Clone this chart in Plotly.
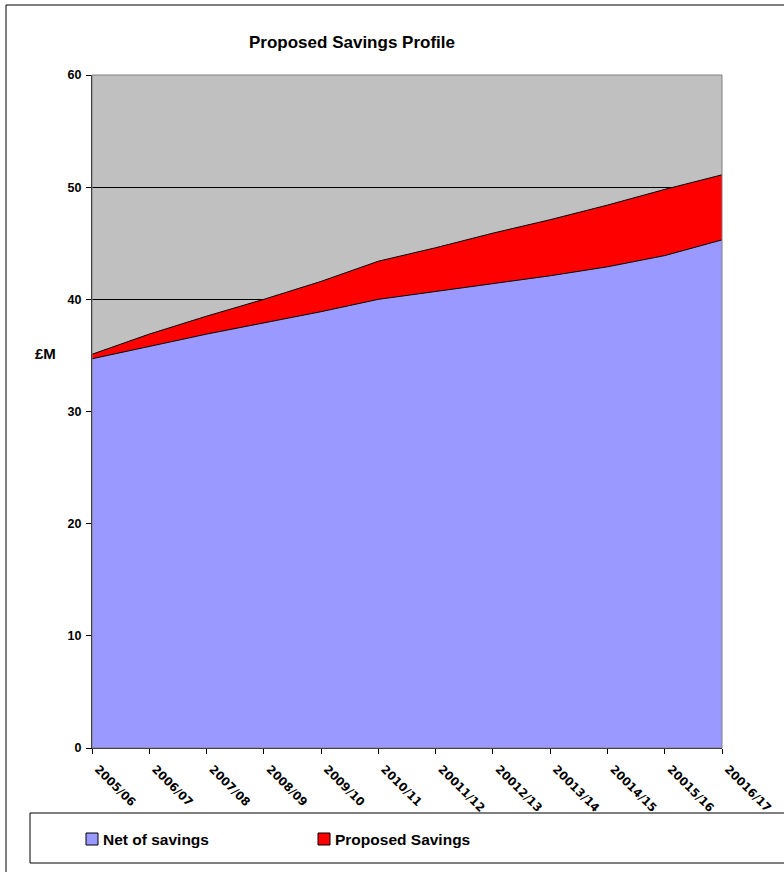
import plotly.graph_objects as go

# Financial years on the category axis
years = ["2005/06", "2006/07", "2007/08", "2008/09", "2009/10", "2010/11",
         "20011/12", "20012/13", "20013/14", "20014/15", "20015/16", "20016/17"]

# £M per year
net_of_savings = [34.7, 35.8, 36.9, 37.9, 38.9, 40.0, 40.7, 41.4, 42.1, 42.9, 43.9, 45.3]
proposed_savings = [0.4, 1.1, 1.6, 2.1, 2.7, 3.4, 3.9, 4.5, 5.0, 5.5, 5.9, 5.8]

y_ticks = [0, 10, 20, 30, 40, 50, 60]

W, H = 784, 872
L, R, T, B = 92, 722, 75, 748  # plot area edges in pixels

FONT = "Liberation Sans, Arial, sans-serif"
WIDE_FONT = "DejaVu Sans, Verdana, sans-serif"
BLUE = "#9999FF"
RED = "#FF0000"


def px(x):
    return (x - L) / (R - L)


def py(y):
    return (B - y) / (B - T)


stack_top = [n + s for n, s in zip(net_of_savings, proposed_savings)]

fig = go.Figure()
fig.add_trace(go.Scatter(
    x=years, y=net_of_savings, name="Net of savings",
    mode="lines", line=dict(color="black", width=1),
    fill="tozeroy", fillcolor=BLUE, showlegend=False,
))
fig.add_trace(go.Scatter(
    x=years, y=stack_top, name="Proposed Savings",
    mode="lines", line=dict(color="black", width=1),
    fill="tonexty", fillcolor=RED, showlegend=False,
    customdata=proposed_savings,
))

shapes = [
    # outer chart frame
    dict(type="rect", xref="paper", yref="paper",
         x0=px(6), x1=px(800), y0=py(900), y1=py(5),
         line=dict(color="black", width=1), fillcolor="rgba(0,0,0,0)", layer="above"),
    # plot area border (top / right)
    dict(type="rect", xref="paper", yref="paper",
         x0=0, x1=1, y0=0, y1=1,
         line=dict(color="#808080", width=1), fillcolor="rgba(0,0,0,0)", layer="above"),
    # legend box
    dict(type="rect", xref="paper", yref="paper",
         x0=px(30), x1=px(800), y0=py(863), y1=py(813),
         line=dict(color="black", width=1), fillcolor="white", layer="above"),
    # legend swatches
    dict(type="rect", xref="paper", yref="paper",
         x0=px(86), x1=px(98), y0=py(845), y1=py(833),
         line=dict(color="black", width=1), fillcolor=BLUE, layer="above"),
    dict(type="rect", xref="paper", yref="paper",
         x0=px(318), x1=px(330), y0=py(845), y1=py(833),
         line=dict(color="black", width=1), fillcolor=RED, layer="above"),
]

annotations = [
    dict(text="<b>£M</b>", xref="paper", yref="paper", x=px(45), y=py(353),
         xanchor="center", yanchor="middle", showarrow=False,
         font=dict(family=FONT, size=15, color="black")),
    dict(text="<b>Net of savings</b>", xref="paper", yref="paper", x=px(101), y=py(839),
         xanchor="left", yanchor="middle", showarrow=False,
         font=dict(family=FONT, size=15.5, color="black")),
    dict(text="<b>Proposed Savings</b>", xref="paper", yref="paper", x=px(333), y=py(839),
         xanchor="left", yanchor="middle", showarrow=False,
         font=dict(family=FONT, size=15.5, color="black")),
]

fig.update_layout(
    width=W, height=H, autosize=False,
    margin=dict(l=L, r=W - R, t=T, b=H - B, pad=0),
    paper_bgcolor="white", plot_bgcolor="#C0C0C0",
    title=dict(text="<b>Proposed Savings Profile</b>", x=px(352), xref="paper",
               xanchor="center", y=1 - 42 / H, yref="container", yanchor="middle",
               font=dict(family=FONT, size=17, color="black")),
    shapes=shapes, annotations=annotations,
    showlegend=False,
)

fig.update_xaxes(
    type="category", range=[0, len(years) - 1], automargin=False,
    showgrid=False, zeroline=False,
    showline=True, linecolor="black", linewidth=1,
    ticks="outside", ticklen=5, tickcolor="black",
    tickangle=45, ticklabelshift=6, ticklabelstandoff=4,
    tickfont=dict(family=WIDE_FONT, size=11.5, color="black", weight="bold"),
)
fig.update_yaxes(
    range=[0, 60], tickvals=y_ticks, ticktext=[str(v) for v in y_ticks],
    automargin=False,
    showgrid=True, gridcolor="black", gridwidth=1, zeroline=False,
    showline=True, linecolor="black", linewidth=1,
    ticks="outside", ticklen=5, tickcolor="black", ticklabelstandoff=2,
    tickfont=dict(family=FONT, size=12.5, color="black", weight="bold"),
)

fig.write_html("out.html")
